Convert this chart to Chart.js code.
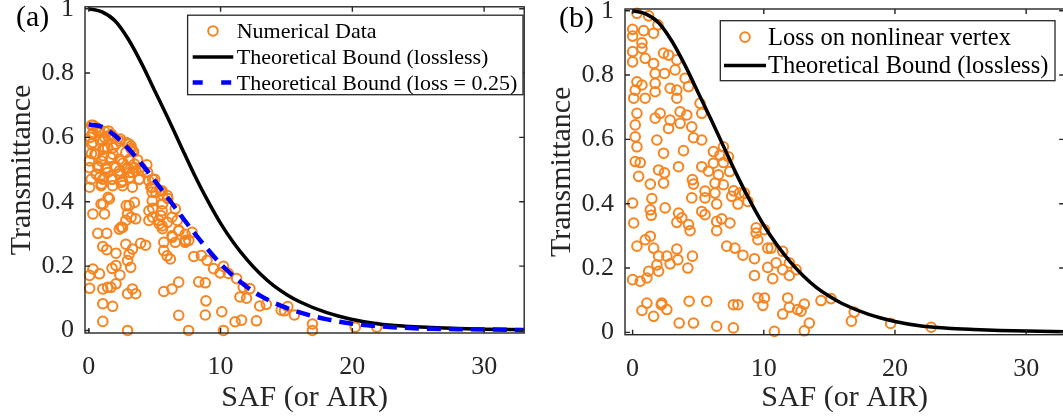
<!DOCTYPE html>
<html>
<head>
<meta charset="utf-8">
<script src="https://cdn.jsdelivr.net/npm/chart.js@4.4.1/dist/chart.umd.min.js"></script>
<style>
  html, body { margin: 0; padding: 0; background: #fff; }
  #wrap { position: relative; width: 1063px; height: 419px; overflow: hidden; }
  .panel { position: absolute; top: 0; height: 419px; }
</style>
</head>
<body>
<div id="wrap">
  <div class="panel" style="left:0;width:531px"><canvas id="chartA"></canvas></div>
  <div class="panel" style="left:531px;width:540px"><canvas id="chartB"></canvas></div>
</div>
<script>
// tick values
const xTicks = [0, 10, 20, 30];
const yTicks = [0, 0.2, 0.4, 0.6, 0.8, 1];

// theoretical bound curves
const boundSAF      = [0, 1, 2, 3, 4, 5, 6, 7, 8, 9, 10, 11, 12, 13, 14, 15, 16, 18, 20, 22, 24, 26, 28, 30, 33];
const boundLossless = [1.0, 0.99, 0.962, 0.905, 0.83, 0.745, 0.66, 0.572, 0.485, 0.405, 0.333, 0.272, 0.22, 0.176, 0.14, 0.112, 0.089, 0.056, 0.034, 0.02, 0.013, 0.009, 0.006, 0.004, 0.002];
const boundLoss025  = [0.64, 0.633, 0.605, 0.565, 0.518, 0.466, 0.412, 0.357, 0.303, 0.253, 0.207, 0.168, 0.135, 0.108, 0.087, 0.07, 0.056, 0.035, 0.021, 0.013, 0.008, 0.005, 0.004, 0.003, 0.001];

// panel (a): numerical data
const safA = [
  0.31, 0.26, 0.81, 0.31, 1.06, 1.94, 1.43, 2.06, 1.06, 0.56,
  0.06, 0.93, 1.68, 2.31, 2.81, 3.06, 0.06, 0.68, 1.31, 2.06,
  2.81, 3.44, 0.56, 1.43, 2.31, 3.31, 4.06, 0.18, 1.06, 1.81,
  2.56, 3.81, 4.56, 0.06, 0.93, 1.81, 2.56, 3.31, 4.81, 5.56,
  4.81, 1.56, 0.93, 0.31, 1.19, 3.06, 2.94, 3.56, 4.56, 5.56,
  6.56, 5.31, 6.31, 4.56, 2.81, 2.4, 3.2, 3.4, 4.4, 5.0,
  4.8, 4.85, 5.6, 6.0, 0.6, 1.5, 0.1, 0.2, 1.2, 2.6,
  3.7, 0.68, 1.36, 2.31, 2.56, 5.56, 6.31, 6.82, 7.31, 7.31,
  6.56, 5.69, 1.06, 1.36, 2.06, 2.81, 3.31, 3.93, 4.31, 5.69,
  5.94, 6.19, 3.06, 2.94, 3.18, 2.06, 1.76, 2.36, 0.31, 0.06,
  0.81, 0.06, 1.06, 1.68, 2.06, 1.43, 2.94, 3.31, 3.56, 5.69,
  6.31, 6.82, 1.06, 1.81, 6.82, 1.06, 2.94, 7.57, 7.84, 7.59,
  7.97, 8.54, 8.97, 9.47, 9.97, 10.22, 10.59, 11.22, 11.72, 12.22,
  11.47, 11.97, 12.97, 13.47, 14.6, 15.1, 15.6, 14.85, 8.34, 8.84,
  8.89, 8.84, 10.09, 11.1, 11.59, 12.72, 10.22, 16.97, 16.97, 20.22,
  21.85, 0.21, 0.33, 0.71, 1.21, 1.46, 1.71, 0.21, 0.83, 1.21,
  1.83, 2.33, 2.84, 3.21, 3.33, 0.46, 1.08, 1.83, 2.46, 3.09,
  3.46, 3.96, 4.46, 0.71, 1.34, 1.96, 2.33, 2.96, 3.09, 3.59,
  0.83, 1.71, 2.46, 3.09, 3.84, 4.84, 0.96, 4.71, 5.09, 5.46,
  5.96, 5.59, 1.46, 1.08, 2.84, 3.46, 3.21, 2.46, 4.84, 5.46,
  5.34, 5.96, 5.59, 6.71, 6.84, 6.34, 7.34
];
const transA = [
  0.638, 0.61, 0.615, 0.584, 0.589, 0.599, 0.568, 0.579, 0.563, 0.548,
  0.527, 0.527, 0.537, 0.532, 0.553, 0.579, 0.506, 0.512, 0.506, 0.506,
  0.501, 0.506, 0.486, 0.491, 0.486, 0.491, 0.496, 0.47, 0.47, 0.47,
  0.465, 0.47, 0.465, 0.445, 0.45, 0.45, 0.45, 0.445, 0.445, 0.434,
  0.403, 0.409, 0.393, 0.362, 0.362, 0.388, 0.362, 0.347, 0.372, 0.372,
  0.378, 0.342, 0.352, 0.342, 0.342, 0.595, 0.565, 0.555, 0.515, 0.47,
  0.43, 0.38, 0.42, 0.41, 0.63, 0.62, 0.6, 0.55, 0.6, 0.52,
  0.53, 0.302, 0.302, 0.315, 0.32, 0.325, 0.294, 0.31, 0.299, 0.274,
  0.274, 0.274, 0.261, 0.251, 0.24, 0.268, 0.253, 0.271, 0.265, 0.248,
  0.232, 0.222, 0.237, 0.217, 0.196, 0.202, 0.193, 0.172, 0.191, 0.171,
  0.176, 0.131, 0.129, 0.134, 0.145, 0.134, 0.114, 0.129, 0.114, 0.121,
  0.129, 0.15, 0.083, 0.075, 0.047, 0.028, 0.0, 0.0, 0.305, 0.28,
  0.23, 0.233, 0.218, 0.192, 0.179, 0.199, 0.177, 0.161, 0.134, 0.13,
  0.104, 0.1, 0.076, 0.081, 0.063, 0.074, 0.048, 0.061, 0.151, 0.148,
  0.092, 0.048, 0.058, 0.027, 0.032, 0.03, 0.0, 0.02, 0.0, 0.01,
  0.01, 0.638, 0.615, 0.62, 0.618, 0.604, 0.61, 0.579, 0.594, 0.568,
  0.568, 0.589, 0.584, 0.573, 0.558, 0.548, 0.543, 0.548, 0.527, 0.532,
  0.517, 0.506, 0.491, 0.506, 0.501, 0.512, 0.496, 0.506, 0.491, 0.496,
  0.475, 0.47, 0.46, 0.475, 0.47, 0.47, 0.455, 0.445, 0.429, 0.434,
  0.419, 0.393, 0.414, 0.393, 0.388, 0.398, 0.352, 0.321, 0.352, 0.357,
  0.331, 0.336, 0.316, 0.342, 0.311, 0.29, 0.28
];

// panel (b): loss on nonlinear vertex
const safB = [
  0.33, 1.22, 1.93, 0.0, 0.0, 0.84, 1.6, 0.71, 0.71, 0.0,
  0.0, 0.96, 1.6, 2.36, 2.74, 3.37, 3.24, 1.72, 2.43, 4.0,
  4.26, 0.33, 0.71, 0.2, 1.72, 2.86, 3.37, 0.08, 0.96, 1.72,
  3.37, 5.14, 5.27, 0.33, 0.2, 1.72, 2.1, 2.86, 3.62, 4.13,
  3.62, 2.74, 4.51, 0.2, 0.33, 1.85, 2.36, 3.88, 4.64, 5.27,
  6.16, 6.92, 6.66, 0.2, 0.58, 1.98, 3.5, 5.27, 6.16, 6.92,
  7.3, 0.46, 1.35, 2.43, 2.36, 4.56, 4.64, 4.51, 5.78, 6.54,
  6.28, 6.92, 5.52, 6.28, 5.52, 6.41, 7.55, 0.0, 1.47, 1.35,
  1.42, 2.48, 3.5, 3.75, 3.37, 4.26, 4.38, 5.27, 5.52, 6.41,
  6.79, 7.42, 6.41, 0.08, 1.35, 0.96, 0.33, 1.6, 1.98, 2.61,
  3.37, 3.45, 2.86, 4.56, 4.21, 1.85, 1.98, 1.22, 0.0, 0.58,
  1.09, 7.17, 7.8, 1.09, 0.71, 1.6, 2.23, 2.61, 2.18, 4.31,
  5.65, 3.55, 4.64, 6.41, 7.68, 7.68, 8.15, 8.53, 8.03, 8.79,
  9.42, 9.42, 10.05, 9.55, 10.3, 10.56, 11.44, 8.41, 9.29, 10.3,
  10.94, 11.44, 11.95, 12.46, 11.95, 10.68, 9.29, 8.03, 9.55, 10.05,
  9.93, 11.82, 11.95, 12.58, 13.09, 12.84, 11.44, 13.47, 13.09, 10.81,
  14.36, 15.12, 16.89, 16.68, 19.67, 22.76, 7.4, 7.7
];
const transB = [
  0.992, 0.984, 0.956, 0.942, 0.921, 0.938, 0.93, 0.9, 0.883, 0.873,
  0.841, 0.852, 0.836, 0.868, 0.862, 0.847, 0.816, 0.805, 0.805, 0.79,
  0.764, 0.779, 0.769, 0.753, 0.774, 0.759, 0.753, 0.728, 0.728, 0.748,
  0.728, 0.712, 0.681, 0.681, 0.645, 0.666, 0.681, 0.66, 0.686, 0.676,
  0.65, 0.634, 0.639, 0.608, 0.577, 0.598, 0.557, 0.565, 0.605, 0.598,
  0.562, 0.577, 0.551, 0.531, 0.528, 0.505, 0.515, 0.515, 0.526, 0.528,
  0.546, 0.485, 0.461, 0.496, 0.464, 0.475, 0.461, 0.418, 0.501, 0.49,
  0.464, 0.459, 0.439, 0.433, 0.418, 0.399, 0.423, 0.402, 0.416, 0.381,
  0.364, 0.387, 0.371, 0.356, 0.342, 0.335, 0.316, 0.376, 0.366, 0.345,
  0.353, 0.34, 0.316, 0.34, 0.299, 0.288, 0.268, 0.262, 0.237, 0.237,
  0.259, 0.226, 0.213, 0.237, 0.2, 0.21, 0.19, 0.19, 0.164, 0.159,
  0.169, 0.268, 0.262, 0.091, 0.068, 0.05, 0.091, 0.071, 0.086, 0.097,
  0.097, 0.029, 0.029, 0.019, 0.086, 0.014, 0.433, 0.433, 0.399, 0.407,
  0.325, 0.309, 0.319, 0.288, 0.262, 0.262, 0.252, 0.24, 0.229, 0.202,
  0.216, 0.195, 0.216, 0.195, 0.177, 0.167, 0.177, 0.086, 0.107, 0.107,
  0.084, 0.107, 0.078, 0.071, 0.088, 0.066, 0.057, 0.029, 0.005, 0.003,
  0.099, 0.105, 0.063, 0.035, 0.028, 0.016, 0.5, 0.44
];

const serif = "'Liberation Serif', 'Times New Roman', serif";
const axisColor = '#262626';
const orange = '#f7841f';

function pts(xs, ys) {
  return xs.map((v, i) => ({ x: v, y: ys[i] }));
}

// MATLAB-like box, inward ticks, panel label and legend
const boxPlugin = {
  id: 'boxPlugin',
  afterDraw(chart, args, o) {
    const ctx = chart.ctx;
    const a = chart.chartArea;
    const sx = chart.scales.x, sy = chart.scales.y;
    ctx.save();
    ctx.strokeStyle = axisColor;
    ctx.lineWidth = 1.4;
    ctx.strokeRect(a.left, a.top, a.right - a.left, a.bottom - a.top);
    const tl = 5;
    ctx.beginPath();
    xTicks.forEach(v => {
      const p = sx.getPixelForValue(v);
      ctx.moveTo(p, a.bottom); ctx.lineTo(p, a.bottom - tl);
      ctx.moveTo(p, a.top); ctx.lineTo(p, a.top + tl);
    });
    yTicks.forEach(v => {
      const p = sy.getPixelForValue(v);
      ctx.moveTo(a.left, p); ctx.lineTo(a.left + tl, p);
      ctx.moveTo(a.right, p); ctx.lineTo(a.right - tl, p);
    });
    ctx.stroke();

    // panel label
    ctx.fillStyle = '#000';
    ctx.font = '30px ' + serif;
    ctx.textBaseline = 'alphabetic';
    ctx.textAlign = 'left';
    ctx.fillText(o.label, o.labelX, o.labelY);

    // legend
    const lg = o.legend;
    ctx.fillStyle = '#fff';
    ctx.fillRect(lg.box[0], lg.box[1], lg.box[2] - lg.box[0], lg.box[3] - lg.box[1]);
    ctx.strokeStyle = axisColor;
    ctx.lineWidth = 1.3;
    ctx.strokeRect(lg.box[0], lg.box[1], lg.box[2] - lg.box[0], lg.box[3] - lg.box[1]);
    ctx.font = lg.size + 'px ' + serif;
    lg.items.forEach(it => {
      const my = it.y - lg.size * 0.32;
      if (it.kind === 'circle') {
        ctx.beginPath();
        ctx.strokeStyle = orange;
        ctx.lineWidth = 2;
        ctx.arc((lg.markX[0] + lg.markX[1]) / 2, my, 4.8, 0, Math.PI * 2);
        ctx.stroke();
      } else {
        ctx.beginPath();
        ctx.strokeStyle = it.kind === 'dash' ? '#0000ff' : '#000';
        ctx.lineWidth = it.kind === 'dash' ? 4.5 : 3.5;
        ctx.setLineDash(it.kind === 'dash' ? [10, 18.5] : []);
        ctx.moveTo(lg.markX[0], my);
        ctx.lineTo(lg.markX[1], my);
        ctx.stroke();
        ctx.setLineDash([]);
      }
      ctx.fillStyle = '#000';
      ctx.fillText(it.text, lg.textX, it.y);
    });
    ctx.restore();
  }
};

function makeScales(c) {
  return {
    x: {
      type: 'linear', min: c.xMin, max: c.xMax,
      grid: { display: false, drawTicks: false },
      border: { display: false },
      afterBuildTicks: s => { s.ticks = xTicks.map(v => ({ value: v })); },
      afterFit: s => { s.height = c.xH; s.paddingLeft = 0; s.paddingRight = 0; },
      ticks: {
        padding: 19, color: axisColor, maxRotation: 0, autoSkip: false,
        font: { family: serif, size: 26, lineHeight: 1.2 },
        callback: v => String(v)
      },
      title: {
        display: true, text: 'SAF (or AIR)', color: axisColor,
        font: { family: serif, size: 30, lineHeight: 1.2 },
        padding: { top: 0, bottom: 3 }
      }
    },
    y: {
      type: 'linear', min: c.yMin, max: c.yMax,
      grid: { display: false, drawTicks: false },
      border: { display: false },
      afterBuildTicks: s => { s.ticks = yTicks.map(v => ({ value: v })); },
      afterFit: s => { s.width = c.yW; s.paddingTop = 0; s.paddingBottom = 0; },
      ticks: {
        padding: 11, color: axisColor, autoSkip: false,
        font: { family: serif, size: 26, lineHeight: 1.2 },
        callback: v => String(v)
      },
      title: {
        display: true, text: 'Transmittance', color: axisColor,
        font: { family: serif, size: 30, lineHeight: 1.2 },
        padding: { top: c.yTitlePad, bottom: 0 }
      }
    }
  };
}

function baseOptions(c, boxOpts) {
  return {
    responsive: true,
    maintainAspectRatio: false,
    devicePixelRatio: 1,
    animation: false,
    events: [],
    layout: { padding: c.pad },
    scales: makeScales(c),
    plugins: {
      legend: { display: false },
      tooltip: { enabled: false },
      boxPlugin: boxOpts
    }
  };
}

const scatterStyle = {
  type: 'scatter',
  pointRadius: 4.8,
  pointBorderWidth: 2,
  pointBorderColor: orange,
  pointBackgroundColor: 'rgba(0,0,0,0)',
  clip: false
};

new Chart(document.getElementById('chartA'), {
  type: 'scatter',
  data: {
    datasets: [
      { type: 'line', label: 'Theoretical Bound (loss = 0.25)', data: pts(boundSAF, boundLoss025),
        borderColor: '#0000ff', borderWidth: 4.5, borderDash: [14, 8], pointRadius: 0,
        cubicInterpolationMode: 'monotone', fill: false, order: 0 },
      { type: 'line', label: 'Theoretical Bound (lossless)', data: pts(boundSAF, boundLossless),
        borderColor: '#000', borderWidth: 3.5, pointRadius: 0,
        cubicInterpolationMode: 'monotone', fill: false, order: 1 },
      Object.assign({ label: 'Numerical Data', data: pts(safA, transA), order: 2 }, scatterStyle)
    ]
  },
  options: baseOptions(
    { xMin: -0.29, xMax: 33.04, yMin: -0.008, yMax: 1.006, xH: 86, yW: 85, yTitlePad: 4,
      pad: { left: 0, top: 5, right: 2, bottom: 0 } },
    { label: '(a)', labelX: 16, labelY: 26,
      legend: {
        box: [187.6, 15.2, 523, 94.7], size: 22, markX: [192.7, 233.3], textX: 236.7,
        items: [
          { kind: 'circle', text: 'Numerical Data', y: 38 },
          { kind: 'line', text: 'Theoretical Bound (lossless)', y: 64 },
          { kind: 'dash', text: 'Theoretical Bound (loss = 0.25)', y: 89.5 }
        ]
      } }
  ),
  plugins: [boxPlugin]
});

new Chart(document.getElementById('chartB'), {
  type: 'scatter',
  data: {
    datasets: [
      { type: 'line', label: 'Theoretical Bound (lossless)', data: pts(boundSAF, boundLossless),
        borderColor: '#000', borderWidth: 3.5, pointRadius: 0,
        cubicInterpolationMode: 'monotone', fill: false, order: 0 },
      Object.assign({ label: 'Loss on nonlinear vertex', data: pts(safB, transB), order: 1 }, scatterStyle)
    ]
  },
  options: baseOptions(
    { xMin: -0.58, xMax: 32.9, yMin: -0.0072, yMax: 1.0053, xH: 84.3, yW: 94, yTitlePad: 13,
      pad: { left: 0, top: 9, right: 5, bottom: 0 } },
    { label: '(b)', labelX: 28, labelY: 27,
      legend: {
        box: [189.3, 20.7, 524, 80.7], size: 24.5, markX: [193, 235], textX: 237,
        items: [
          { kind: 'circle', text: 'Loss on nonlinear vertex', y: 45 },
          { kind: 'line', text: 'Theoretical Bound (lossless)', y: 73.3 }
        ]
      } }
  ),
  plugins: [boxPlugin]
});
</script>
</body>
</html>
